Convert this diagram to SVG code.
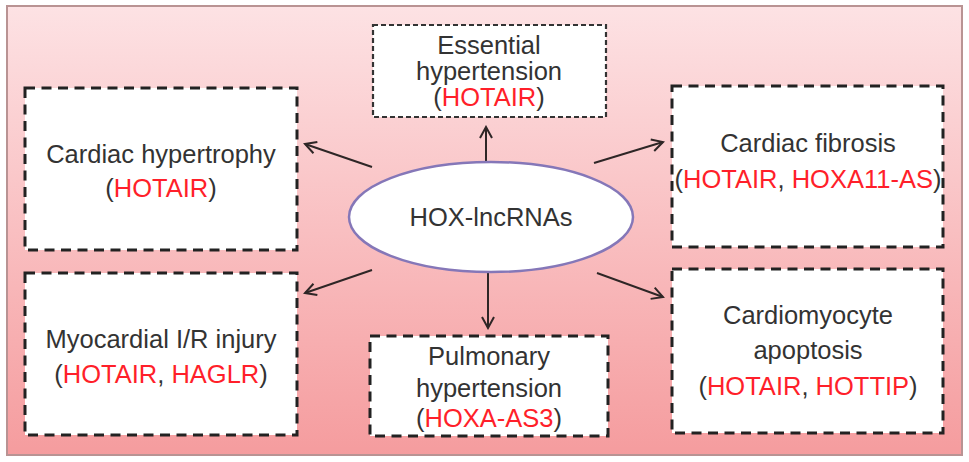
<svg xmlns="http://www.w3.org/2000/svg" width="969" height="462" viewBox="0 0 969 462">
<defs>
<linearGradient id="bg" x1="0" y1="0" x2="0" y2="1">
<stop offset="0" stop-color="#fde2e4"/>
<stop offset="1" stop-color="#f59c9e"/>
</linearGradient>
<marker id="ah" viewBox="0 0 14 14" refX="12" refY="7" markerWidth="14" markerHeight="14" markerUnits="userSpaceOnUse" orient="auto">
<path d="M1,1 L12,7 L1,13" fill="none" stroke="#2e2626" stroke-width="2"/>
</marker>
</defs>
<style>
.box{fill:#fff;stroke:#222;stroke-width:3;stroke-dasharray:10 6.5}
.box2{fill:#fff;stroke:#333;stroke-width:2.2;stroke-dasharray:5 3}
text{font-family:"Liberation Sans",Arial,sans-serif;font-size:25.5px;fill:#333;text-anchor:middle}
.r{fill:#ff1f2a}
.c{stroke:#2e2626;stroke-width:2;fill:none;marker-end:url(#ah)}
</style>
<rect x="7" y="6" width="955" height="449" fill="url(#bg)" stroke="#b99393" stroke-width="2"/>
<g id="connectors">
<line class="c" x1="486" y1="162" x2="486" y2="127"/>
<line class="c" x1="488" y1="272" x2="488" y2="328"/>
<line class="c" x1="372" y1="167" x2="305" y2="144"/>
<line class="c" x1="372" y1="270" x2="305" y2="293"/>
<line class="c" x1="594" y1="163" x2="663" y2="142"/>
<line class="c" x1="597" y1="273" x2="663" y2="297"/>
</g>
<g id="center">
<ellipse cx="491" cy="217" rx="142" ry="55" fill="#fff" stroke="#8577b8" stroke-width="2.5"/>
<text x="491" y="226">HOX-lncRNAs</text>
</g>
<g id="essential">
<rect class="box2" x="373" y="25" width="233" height="92"/>
<text x="489" y="54">Essential</text>
<text x="489" y="80">hypertension</text>
<text x="489" y="106">(<tspan class="r">HOTAIR</tspan>)</text>
</g>
<g id="hypertrophy">
<rect class="box" x="25" y="88" width="272" height="162"/>
<text x="161" y="163">Cardiac hypertrophy</text>
<text x="161" y="197">(<tspan class="r">HOTAIR</tspan>)</text>
</g>
<g id="fibrosis">
<rect class="box" x="672" y="86" width="271" height="161"/>
<text x="808" y="152">Cardiac fibrosis</text>
<text x="808" y="188">(<tspan class="r">HOTAIR</tspan>, <tspan class="r">HOXA11-AS</tspan>)</text>
</g>
<g id="myocardial">
<rect class="box" x="25" y="273" width="272" height="162"/>
<text x="161" y="348">Myocardial I/R injury</text>
<text x="161" y="383">(<tspan class="r">HOTAIR</tspan>, <tspan class="r">HAGLR</tspan>)</text>
</g>
<g id="pulmonary">
<rect class="box" x="370" y="336" width="238" height="100"/>
<text x="489" y="365">Pulmonary</text>
<text x="489" y="397">hypertension</text>
<text x="489" y="427">(<tspan class="r">HOXA-AS3</tspan>)</text>
</g>
<g id="apoptosis">
<rect class="box" x="672" y="269" width="271" height="164"/>
<text x="808" y="324">Cardiomyocyte</text>
<text x="808" y="359">apoptosis</text>
<text x="808" y="395">(<tspan class="r">HOTAIR</tspan>, <tspan class="r">HOTTIP</tspan>)</text>
</g>
</svg>
